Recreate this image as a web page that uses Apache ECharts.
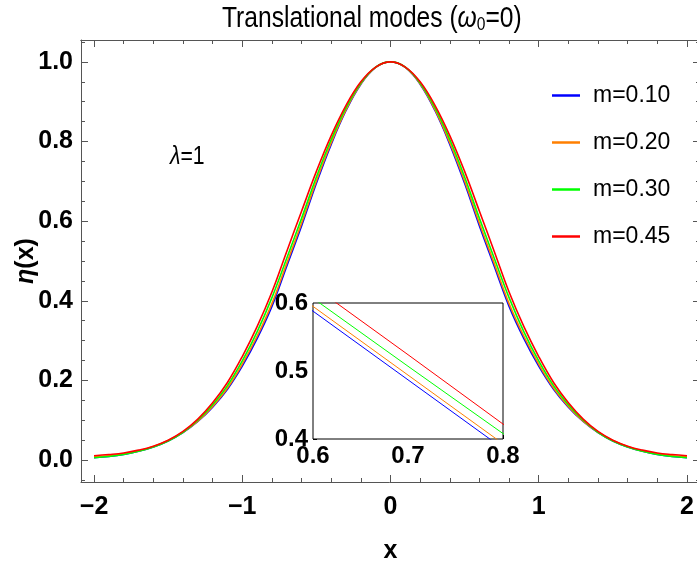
<!DOCTYPE html>
<html>
<head>
<meta charset="utf-8">
<script src="https://cdn.jsdelivr.net/npm/echarts@6/dist/echarts.min.js"></script>
<style>html,body{margin:0;padding:0;background:#fff;}#c{width:697px;height:561px;}</style>
</head>
<body>
<div id="c"></div>
<script>
// ---- data ----
const xs = [-2,-1.9,-1.8,-1.7,-1.6,-1.5,-1.4,-1.3,-1.2,-1.1,-1,-0.9,-0.8,-0.7,-0.6,-0.5,-0.4,-0.3,-0.2,-0.1,0,0.1,0.2,0.3,0.4,0.5,0.6,0.7,0.8,0.9,1,1.1,1.2,1.3,1.4,1.5,1.6,1.7,1.8,1.9,2];
const m010 = [0.006,0.009,0.014,0.022,0.033,0.048,0.069,0.097,0.133,0.178,0.236,0.305,0.386,0.487,0.588,0.695,0.793,0.878,0.944,0.986,1.000,0.986,0.944,0.878,0.793,0.695,0.588,0.487,0.386,0.305,0.236,0.178,0.133,0.097,0.069,0.048,0.033,0.022,0.014,0.009,0.006];
const m020 = [0.008,0.011,0.016,0.023,0.034,0.049,0.070,0.098,0.135,0.181,0.241,0.311,0.393,0.494,0.595,0.701,0.797,0.880,0.945,0.986,1.000,0.986,0.945,0.880,0.797,0.701,0.595,0.494,0.393,0.311,0.241,0.181,0.135,0.098,0.070,0.049,0.034,0.023,0.016,0.011,0.008];
const m030 = [0.006,0.009,0.014,0.022,0.033,0.048,0.070,0.100,0.139,0.187,0.249,0.322,0.408,0.507,0.607,0.711,0.805,0.885,0.947,0.987,1.000,0.987,0.947,0.885,0.805,0.711,0.607,0.507,0.408,0.322,0.249,0.187,0.139,0.100,0.070,0.048,0.033,0.022,0.014,0.009,0.006];
const m045 = [0.011,0.014,0.018,0.025,0.035,0.050,0.072,0.103,0.144,0.195,0.260,0.335,0.422,0.524,0.625,0.725,0.815,0.891,0.950,0.987,1.000,0.987,0.950,0.891,0.815,0.725,0.625,0.524,0.422,0.335,0.260,0.195,0.144,0.103,0.072,0.050,0.035,0.025,0.018,0.014,0.011];
const seriesNames = ['m=0.10','m=0.20','m=0.30','m=0.45'];
const seriesColors = ['#0000ff','#ff7f00','#00ff00','#ff0000'];
const xMajor = [-2,-1,0,1,2];
const xMinor = [-2.2,-1.8,-1.6,-1.4,-1.2,-0.8,-0.6,-0.4,-0.2,0.2,0.4,0.6,0.8,1.2,1.4,1.6,1.8];
const yMajor = [0,0.2,0.4,0.6,0.8,1.0];
const yMinor = [-0.05,0.05,0.1,0.15,0.25,0.3,0.35,0.45,0.5,0.55,0.65,0.7,0.75,0.85,0.9,0.95,1.05];
const insetX = [0.6,0.7,0.8];
const insetY = [0.4,0.5,0.6];

const FF = "'Liberation Sans',Arial,sans-serif";
const frameColor = '#555';

const allData = [m010, m020, m030, m045];
const mk = arr => xs.map((x, i) => [x, arr[i]]);
const fmtX = v => (v < 0 ? '\u2212' + (-v) : String(v));
const fmtY = v => v.toFixed(1);

function xAx(pos, ticks, len, labels, extra) {
  return Object.assign({
    type: 'value', gridIndex: 0, min: -2.088, max: 2.088, position: pos,
    axisLine: { show: labels !== null || pos === 'top', onZero: false, lineStyle: { color: frameColor, width: 1 } },
    axisTick: { show: true, inside: true, length: len, customValues: ticks, lineStyle: { color: frameColor, width: 1 } },
    axisLabel: labels ? labels : { show: false },
    splitLine: { show: false }
  }, extra || {});
}
function yAx(pos, ticks, len, labels, extra) {
  return Object.assign({
    type: 'value', gridIndex: 0, min: -0.055, max: 1.055, position: pos,
    axisLine: { show: labels !== null || pos === 'right', onZero: false, lineStyle: { color: frameColor, width: 1 } },
    axisTick: { show: true, inside: true, length: len, customValues: ticks, lineStyle: { color: frameColor, width: 1 } },
    axisLabel: labels ? labels : { show: false },
    splitLine: { show: false }
  }, extra || {});
}

const xAxes = [
  xAx('bottom', xMajor, 7, { customValues: xMajor, formatter: fmtX, fontFamily: FF, fontWeight: 'bold', fontSize: 25, color: '#000', margin: 13 },
      { name: 'x', nameLocation: 'middle', nameGap: 57, nameMoveOverlap: false, nameTextStyle: { fontFamily: FF, fontWeight: 'bold', fontSize: 25, color: '#000' } }),
  xAx('bottom', xMinor, 4, null),
  xAx('top', xMajor, 7, null),
  xAx('top', xMinor, 4, null),
  {
    type: 'value', gridIndex: 1, min: 0.6, max: 0.8, position: 'bottom',
    axisLine: { show: false, onZero: false },
    axisTick: { show: true, inside: true, length: 4, customValues: insetX, lineStyle: { color: '#000' } },
    axisLabel: { customValues: insetX, formatter: fmtY, fontFamily: FF, fontWeight: 'bold', fontSize: 24, color: '#000', margin: 5 },
    splitLine: { show: false }
  }
];
const yAxes = [
  yAx('left', yMajor, 7, { customValues: yMajor, formatter: fmtY, fontFamily: FF, fontWeight: 'bold', fontSize: 25, color: '#000', margin: 8 },
      { name: '{e|\u03b7}(x)', nameLocation: 'middle', nameGap: 42, nameMoveOverlap: false,
        nameTextStyle: { fontFamily: FF, fontWeight: 'bold', fontSize: 25, color: '#000',
          rich: { e: { fontFamily: FF, fontWeight: 'bold', fontStyle: 'italic', fontSize: 25, color: '#000' } } } }),
  yAx('left', yMinor, 4, null),
  yAx('right', yMajor, 7, null),
  yAx('right', yMinor, 4, null),
  {
    type: 'value', gridIndex: 1, min: 0.4, max: 0.6, position: 'left',
    axisLine: { show: false, onZero: false },
    axisTick: { show: true, inside: true, length: 4, customValues: insetY, lineStyle: { color: '#000' } },
    axisLabel: { customValues: insetY, formatter: fmtY, fontFamily: FF, fontWeight: 'bold', fontSize: 24, color: '#000', margin: 5 },
    splitLine: { show: false }
  }
];

const series = [];
allData.forEach((arr, k) => {
  series.push({
    name: seriesNames[k], type: 'line', xAxisIndex: 0, yAxisIndex: 0,
    data: mk(arr), smooth: 0.4, showSymbol: false, symbol: 'none',
    lineStyle: { color: seriesColors[k], width: 1.6 }, itemStyle: { color: seriesColors[k] },
    z: 2 + k, animation: false
  });
});
allData.forEach((arr, k) => {
  series.push({
    name: seriesNames[k], type: 'line', xAxisIndex: 4, yAxisIndex: 4,
    data: mk(arr), smooth: false, showSymbol: false, symbol: 'none', clip: true,
    lineStyle: { color: seriesColors[k], width: 1 }, itemStyle: { color: seriesColors[k] },
    z: 12 + k, animation: false
  });
});

const chart = echarts.init(document.getElementById('c'), null, { renderer: 'canvas' });
chart.setOption({
  animation: false,
  backgroundColor: '#fff',
  grid: [
    { left: 81, top: 40, width: 619, height: 442, show: false, outerBoundsMode: 'none', containLabel: false },
    { left: 313, top: 303, width: 190, height: 136, show: true, backgroundColor: '#fff', borderColor: '#000', borderWidth: 1, z: 10, outerBoundsMode: 'none', containLabel: false }
  ],
  xAxis: xAxes,
  yAxis: yAxes,
  legend: {
    data: seriesNames, orient: 'vertical', left: 547, top: 79, itemGap: 24,
    icon: 'rect', itemWidth: 28, itemHeight: 2.5,
    textStyle: { fontFamily: FF, fontSize: 23, color: '#000', padding: [0, 0, 0, 8] }
  },
  graphic: [
    { type: 'text', x: 222, y: 3, scaleX: 0.82,
      style: { text: 'Translational modes ({w|\u03c9}{s|0}=0)', fontFamily: FF, fontSize: 30, fill: '#000',
        rich: { w: { fontFamily: FF, fontSize: 30, fontStyle: 'italic', fill: '#000' },
                s: { fontFamily: FF, fontSize: 19, fill: '#000', padding: [12, 0, 0, 0] } } } },
    { type: 'text', x: 170, y: 145, scaleX: 0.85,
      style: { text: '{l|\u03bb}=1', fontFamily: FF, fontSize: 25, fill: '#000',
        rich: { l: { fontFamily: FF, fontSize: 25, fontStyle: 'italic', fill: '#000' } } } }
  ],
  series: series
});
</script>
</body>
</html>
